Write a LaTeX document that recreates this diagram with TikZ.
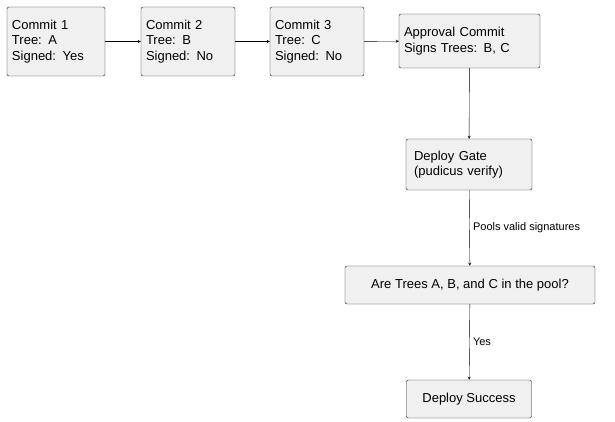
\documentclass[tikz,border=0pt]{standalone}
\usepackage{fontspec}
\setmainfont{Liberation Sans}
\usetikzlibrary{positioning}
\tikzset{
  box/.style={draw=black!90, fill=black!6, rounded corners=2pt, align=left,
    font=\fontsize{13}{15.5}\selectfont, inner sep=0pt},
  lbl/.style={font=\fontsize{11}{13}\selectfont, right}
}
\begin{document}
\begin{tikzpicture}[x=1pt, y=-1pt, >=stealth]
  \useasboundingbox (0,0) rectangle (615,422);
  \node[box, minimum width=98pt, minimum height=69pt, text width=88pt] (c1) at (56,41.5) {Commit 1\\Tree: A\\Signed: Yes};
  \node[box, minimum width=94pt, minimum height=69pt, text width=84pt] (c2) at (188,41.5) {Commit 2\\Tree: B\\Signed: No};
  \node[box, minimum width=94pt, minimum height=69pt, text width=84pt] (c3) at (317,41.5) {Commit 3\\Tree: C\\Signed: No};
  \node[box, minimum width=141pt, minimum height=54pt, text width=131pt] (ap) at (469.5,41) {Approval Commit\\Signs Trees: B, C};
  \node[box, minimum width=126pt, minimum height=51pt, text width=110pt] (gate) at (469,164.5) {Deploy Gate\\(pudicus verify)};
  \node[box, minimum width=250pt, minimum height=38pt, align=center] (pool) at (470,285) {Are Trees A, B, and C in the pool?};
  \node[box, minimum width=125pt, minimum height=38pt, align=center] (ok) at (469,399) {Deploy Success};

  \draw[->] (c1) -- (c2);
  \draw[->] (c2) -- (c3);
  \draw[->] (c3) -- (ap);
  \draw[->] (ap) -- (gate);
  \draw[->] (gate) -- node[lbl] {Pools valid signatures} (pool);
  \draw[->] (pool) -- node[lbl] {Yes} (ok);
\end{tikzpicture}
\end{document}
